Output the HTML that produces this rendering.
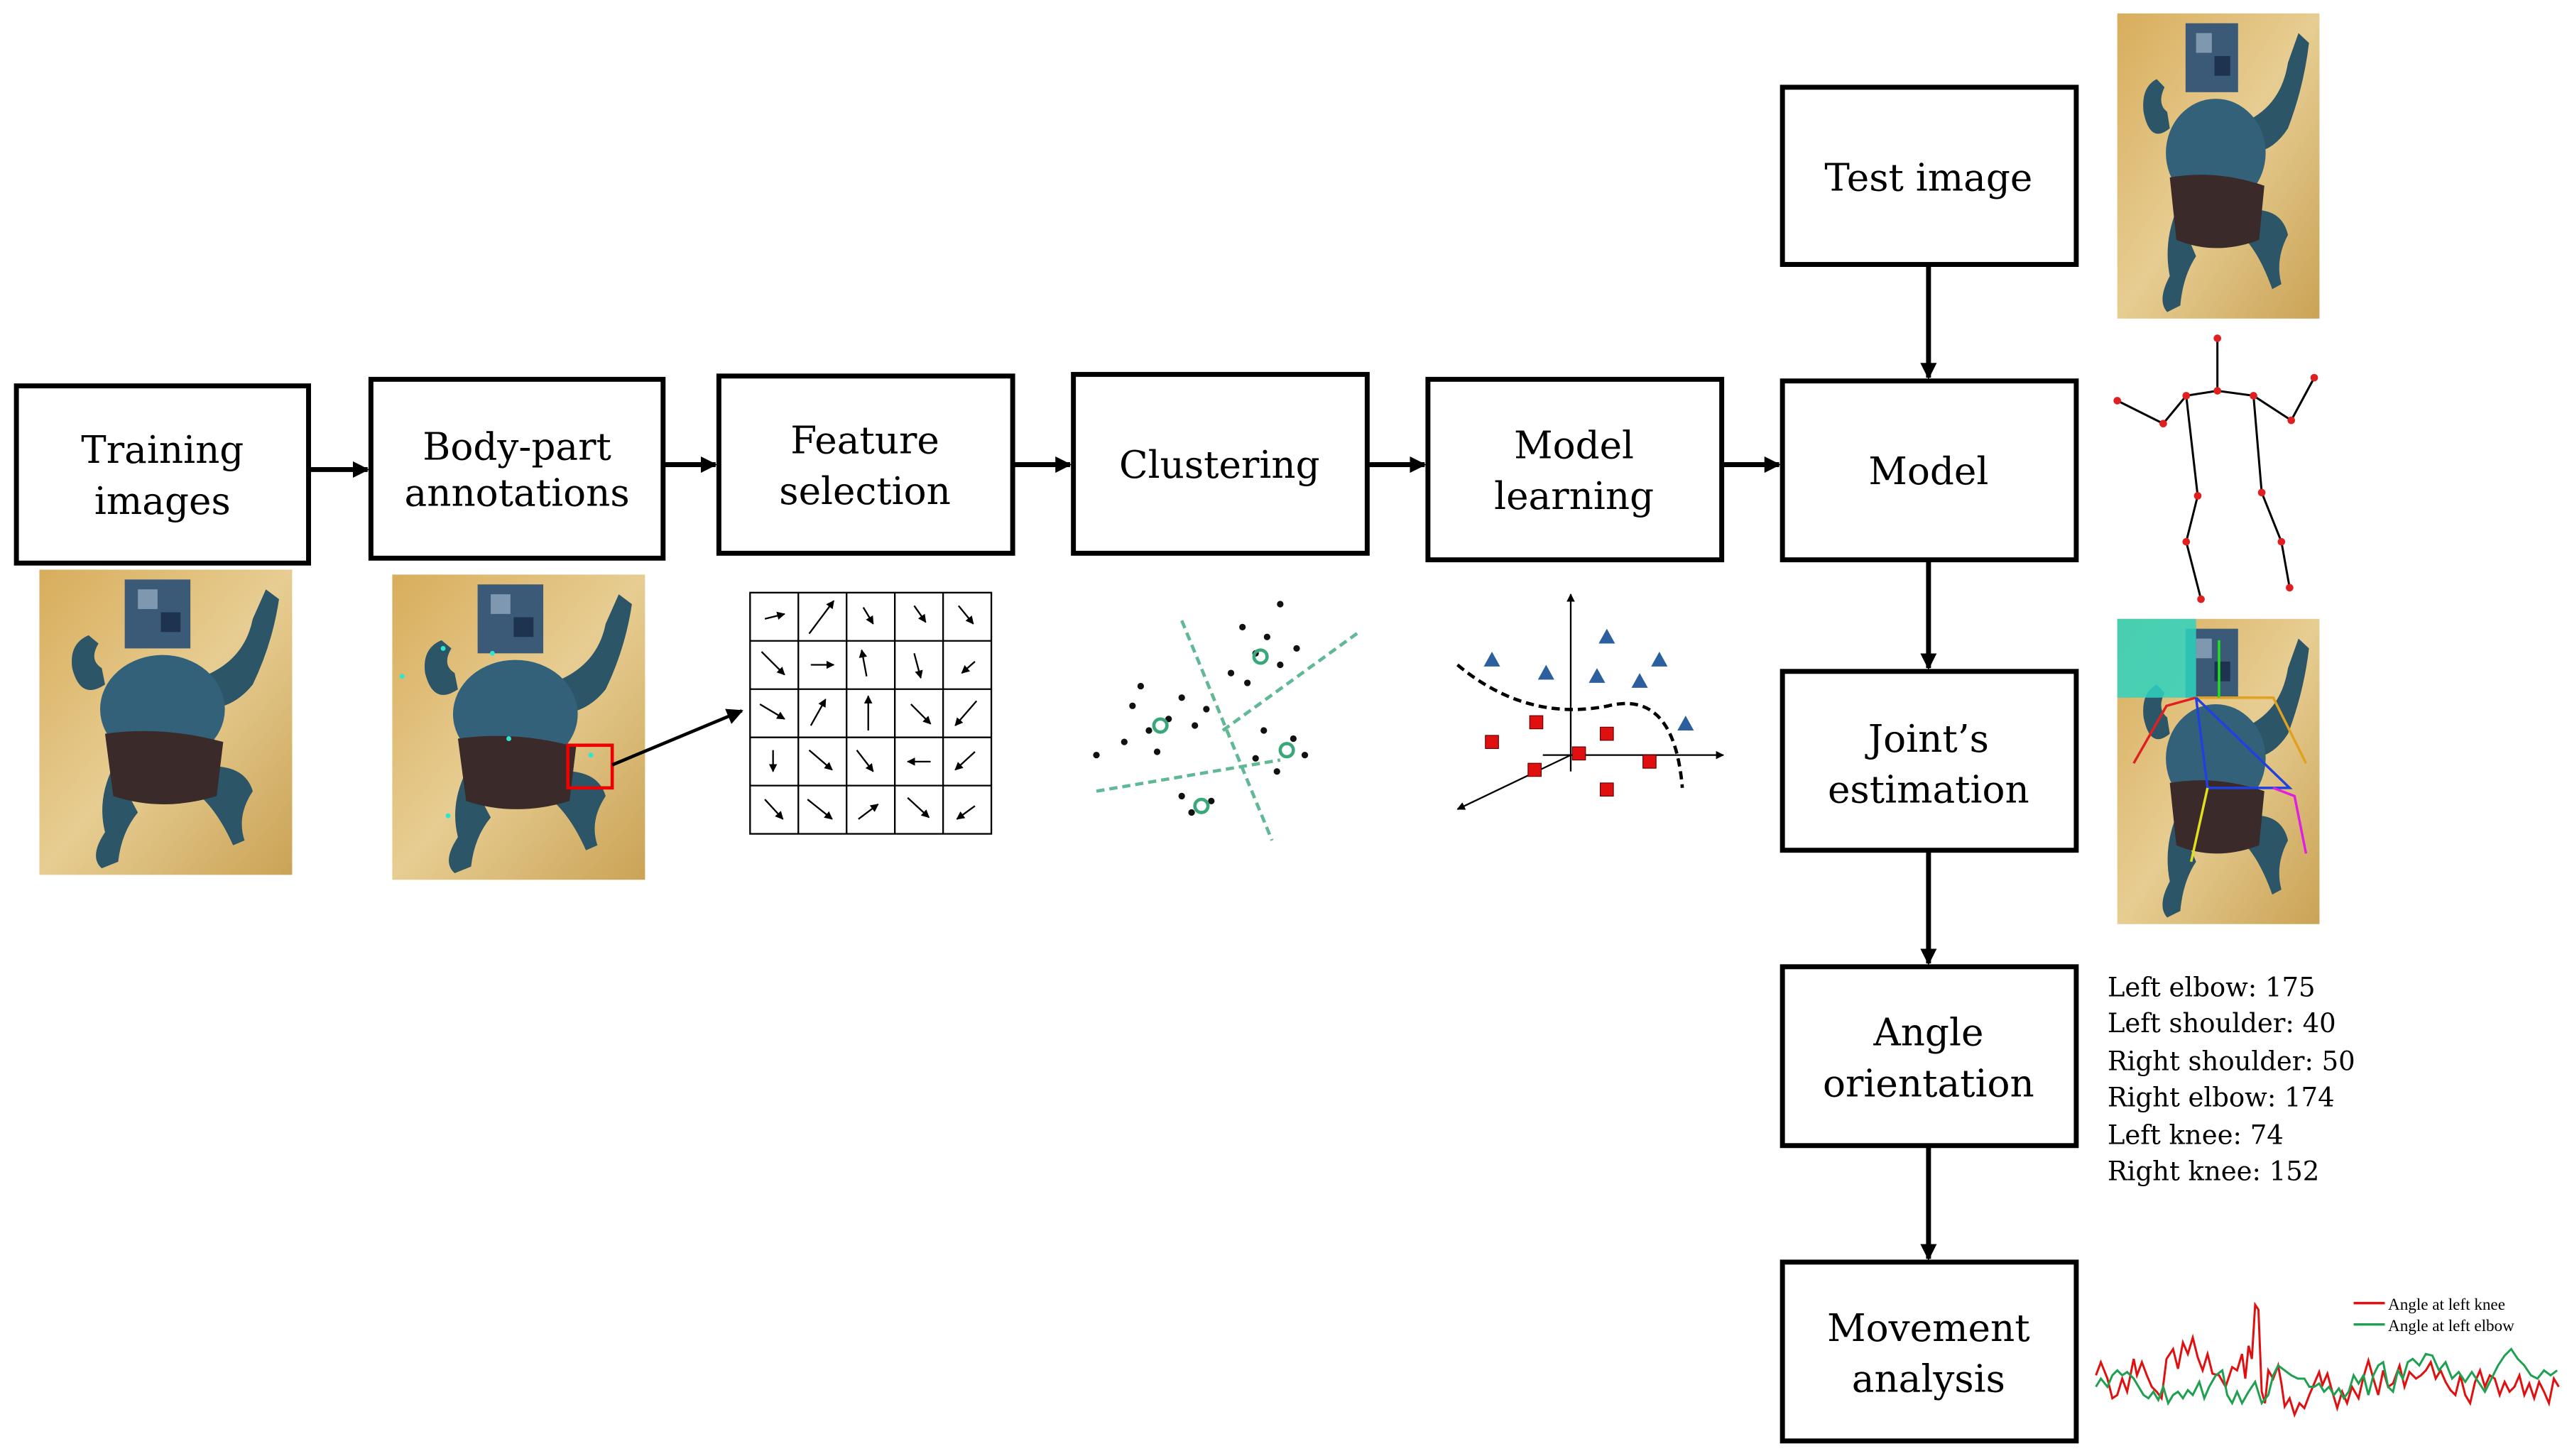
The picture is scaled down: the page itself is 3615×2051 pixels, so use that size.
<!DOCTYPE html>
<html><head><meta charset="utf-8"><style>
html,body{margin:0;padding:0;background:#fff;}
svg{display:block;}
text{font-family:"DejaVu Serif","Liberation Serif",serif;}
</style></head><body>
<svg width="3615" height="2051" viewBox="0 0 1564 887" xmlns="http://www.w3.org/2000/svg">
<defs>
<marker id="ah" markerWidth="10" markerHeight="10" refX="9" refY="5" orient="auto" markerUnits="userSpaceOnUse"><path d="M0,0 L10,5 L0,10 z" fill="#000"/></marker>
<marker id="sa" markerWidth="5" markerHeight="5" refX="4.5" refY="2.5" orient="auto" markerUnits="userSpaceOnUse"><path d="M0,0 L5,2.5 L0,5 z" fill="#000"/></marker>
<linearGradient id="tan" x1="0" y1="0" x2="1" y2="1"><stop offset="0" stop-color="#d8ad5c"/><stop offset="0.5" stop-color="#e7cd92"/><stop offset="1" stop-color="#caa356"/></linearGradient>
<g id="baby">
<rect x="0" y="0" width="154" height="186" fill="url(#tan)"/>
<path d="M40,70 Q25,80 20,60 Q18,45 30,40 L36,45 Q30,55 38,60 Z" fill="#2c5568"/>
<path d="M100,65 Q125,55 130,30 L138,12 L146,18 Q142,45 130,70 Q118,85 100,85 Z" fill="#2c5568"/>
<ellipse cx="75" cy="85" rx="38" ry="33" fill="#33617a"/>
<path d="M45,120 Q35,140 40,160 Q30,175 38,182 L48,178 Q50,160 60,148 Z" fill="#2c5568"/>
<path d="M100,120 Q125,118 130,135 Q120,150 125,165 L118,168 Q110,150 100,140 Z" fill="#2c5568"/>
<path d="M40,100 Q75,95 112,105 L108,138 Q75,148 45,138 Z" fill="#3a2a2a"/>
<rect x="52" y="6" width="40" height="42" fill="#3b5a78"/>
<rect x="60" y="12" width="12" height="12" fill="#7f98b0"/><rect x="74" y="26" width="12" height="12" fill="#1d3350"/>
</g>
</defs>

<g fill="none" stroke="#000" stroke-width="3">
<rect x="10" y="235" width="178" height="108"/>
<rect x="226" y="231" width="178" height="109"/>
<rect x="438" y="229" width="179" height="108"/>
<rect x="654" y="228" width="179" height="109"/>
<rect x="870" y="231" width="179" height="110"/>
<rect x="1086" y="232" width="179" height="109"/>
<rect x="1086" y="53" width="179" height="108"/>
<rect x="1086" y="409" width="179" height="109"/>
<rect x="1086" y="589" width="179" height="109"/>
<rect x="1086" y="769" width="179" height="109"/>
</g>
<g stroke="#000" stroke-width="3" marker-end="url(#ah)">
<line x1="188" y1="286" x2="224" y2="286"/>
<line x1="404" y1="283" x2="436" y2="283"/>
<line x1="617" y1="283" x2="652" y2="283"/>
<line x1="833" y1="283" x2="868" y2="283"/>
<line x1="1049" y1="283" x2="1084" y2="283"/>
<line x1="1175" y1="161" x2="1175" y2="230"/>
<line x1="1175" y1="341" x2="1175" y2="407"/>
<line x1="1175" y1="518" x2="1175" y2="587"/>
<line x1="1175" y1="698" x2="1175" y2="767"/>
</g>
<g font-size="23" text-anchor="middle" fill="#000">
<text x="99" y="282">Training</text><text x="99" y="313">images</text>
<text x="315" y="280">Body-part</text><text x="315" y="308">annotations</text>
<text x="527" y="276">Feature</text><text x="527" y="307">selection</text>
<text x="743" y="291">Clustering</text>
<text x="959" y="279">Model</text><text x="959" y="310">learning</text>
<text x="1175" y="295">Model</text>
<text x="1175" y="116">Test image</text>
<text x="1175" y="458">Joint’s</text><text x="1175" y="489">estimation</text>
<text x="1175" y="637">Angle</text><text x="1175" y="668">orientation</text>
<text x="1175" y="817">Movement</text><text x="1175" y="848">analysis</text>
</g>

<use href="#baby" x="24" y="347"/>
<use href="#baby" x="239" y="350"/>
<g fill="#2ee6d0"><circle cx="270" cy="395" r="1.5"/><circle cx="300" cy="398" r="1.5"/><circle cx="245" cy="412" r="1.5"/><circle cx="360" cy="460" r="1.5"/><circle cx="273" cy="497" r="1.5"/><circle cx="310" cy="450" r="1.5"/></g>
<rect x="346" y="454" width="27" height="26" fill="none" stroke="#e00" stroke-width="2"/>
<line x1="373" y1="466" x2="452" y2="433" stroke="#000" stroke-width="2" marker-end="url(#ah)"/>

<g transform="translate(1290,8) scale(0.8,1)"><use href="#baby"/></g>
<g stroke="#000" stroke-width="1.3" fill="none">
<polyline points="1290,244 1318,258 1332,241 1351,238 1373,241 1396,256 1410,230"/>
<line x1="1351" y1="206" x2="1351" y2="238"/>
<polyline points="1332,241 1339,302 1332,330 1341,365"/>
<polyline points="1373,241 1378,300 1390,330 1395,358"/>
</g>
<g fill="#e02020"><circle cx="1290" cy="244" r="2.3"/><circle cx="1318" cy="258" r="2.3"/><circle cx="1332" cy="241" r="2.3"/><circle cx="1351" cy="238" r="2.3"/><circle cx="1351" cy="206" r="2.3"/><circle cx="1373" cy="241" r="2.3"/><circle cx="1396" cy="256" r="2.3"/><circle cx="1410" cy="230" r="2.3"/><circle cx="1339" cy="302" r="2.3"/><circle cx="1378" cy="300" r="2.3"/><circle cx="1332" cy="330" r="2.3"/><circle cx="1390" cy="330" r="2.3"/><circle cx="1341" cy="365" r="2.3"/><circle cx="1395" cy="358" r="2.3"/></g>
<g transform="translate(1290,377) scale(0.8,1)"><use href="#baby"/></g>
<rect x="1290" y="377" width="48" height="48" fill="#2fd3c0" opacity="0.85"/>
<g stroke-width="1.5" fill="none"><polyline points="1300,465 1320,430 1338,425" stroke="#e02020"/><polyline points="1338,425 1385,425 1405,465" stroke="#e0a020"/><polyline points="1338,425 1345,480 1395,480 1338,425" stroke="#2040e0"/><polyline points="1345,480 1335,525" stroke="#e0e020"/><polyline points="1385,480 1398,485 1405,520" stroke="#e020e0"/><line x1="1352" y1="390" x2="1352" y2="425" stroke="#20e020"/></g>

<g stroke="#000" stroke-width="1" fill="none">
<rect x="457" y="361" width="147" height="147"/>
<line x1="486.4" y1="361" x2="486.4" y2="508"/><line x1="515.8" y1="361" x2="515.8" y2="508"/><line x1="545.2" y1="361" x2="545.2" y2="508"/><line x1="574.6" y1="361" x2="574.6" y2="508"/>
<line x1="457" y1="390.4" x2="604" y2="390.4"/><line x1="457" y1="419.8" x2="604" y2="419.8"/><line x1="457" y1="449.2" x2="604" y2="449.2"/><line x1="457" y1="478.6" x2="604" y2="478.6"/>
</g>
<g stroke="#000" stroke-width="1" marker-end="url(#sa)">
<line x1="466" y1="377" x2="478" y2="374"/><line x1="493" y1="386" x2="508" y2="366"/><line x1="526" y1="370" x2="532" y2="380"/><line x1="557" y1="369" x2="564" y2="379"/><line x1="584" y1="369" x2="593" y2="380"/>
<line x1="464" y1="397" x2="478" y2="411"/><line x1="494" y1="405" x2="508" y2="405"/><line x1="528" y1="412" x2="525" y2="396"/><line x1="557" y1="398" x2="561" y2="413"/><line x1="594" y1="403" x2="586" y2="410"/>
<line x1="463" y1="429" x2="478" y2="438"/><line x1="494" y1="442" x2="503" y2="426"/><line x1="529" y1="445" x2="529" y2="424"/><line x1="555" y1="429" x2="567" y2="441"/><line x1="595" y1="427" x2="582" y2="442"/>
<line x1="471" y1="457" x2="471" y2="470"/><line x1="493" y1="457" x2="507" y2="469"/><line x1="522" y1="457" x2="532" y2="470"/><line x1="567" y1="464" x2="553" y2="464"/><line x1="594" y1="458" x2="582" y2="469"/>
<line x1="466" y1="487" x2="477" y2="499"/><line x1="492" y1="487" x2="507" y2="499"/><line x1="523" y1="499" x2="535" y2="490"/><line x1="553" y1="486" x2="566" y2="498"/><line x1="594" y1="491" x2="583" y2="499"/>
</g>

<g stroke="#3aa77a" stroke-width="2" stroke-dasharray="5,3" opacity="0.8">
<line x1="720" y1="378" x2="775" y2="512"/><line x1="745" y1="445" x2="828" y2="385"/><line x1="668" y1="482" x2="780" y2="463"/>
</g>
<g fill="#111">
<circle cx="780" cy="368" r="2"/><circle cx="757" cy="382" r="2"/><circle cx="772" cy="388" r="2"/><circle cx="765" cy="398" r="2"/><circle cx="780" cy="405" r="2"/><circle cx="750" cy="410" r="2"/><circle cx="760" cy="416" r="2"/><circle cx="790" cy="395" r="2"/>
<circle cx="690" cy="430" r="2"/><circle cx="700" cy="445" r="2"/><circle cx="712" cy="438" r="2"/><circle cx="720" cy="425" r="2"/><circle cx="728" cy="442" r="2"/><circle cx="685" cy="452" r="2"/><circle cx="668" cy="460" r="2"/><circle cx="705" cy="458" r="2"/><circle cx="735" cy="432" r="2"/><circle cx="695" cy="418" r="2"/>
<circle cx="770" cy="445" r="2"/><circle cx="788" cy="450" r="2"/><circle cx="795" cy="460" r="2"/><circle cx="778" cy="470" r="2"/><circle cx="765" cy="462" r="2"/>
<circle cx="720" cy="485" r="2"/><circle cx="738" cy="488" r="2"/><circle cx="726" cy="495" r="2"/>
</g>
<g fill="none" stroke="#3aa77a" stroke-width="2"><circle cx="768" cy="400" r="4"/><circle cx="707" cy="442" r="4"/><circle cx="784" cy="457" r="4"/><circle cx="732" cy="491" r="4"/></g>

<g stroke="#000" stroke-width="1" fill="none">
<line x1="957" y1="470" x2="957" y2="362" marker-end="url(#sa)"/>
<line x1="940" y1="460" x2="1050" y2="460" marker-end="url(#sa)"/>
<line x1="957" y1="460" x2="888" y2="493" marker-end="url(#sa)"/>
<path d="M888,405 Q930,440 980,430 Q1020,420 1025,480" stroke-dasharray="5,3" stroke-width="2"/>
</g>
<g fill="#2b5f9e"><path d="M909,397 l5,9 h-10z"/><path d="M942,405 l5,9 h-10z"/><path d="M979,383 l5,9 h-10z"/><path d="M973,407 l5,9 h-10z"/><path d="M1011,397 l5,9 h-10z"/><path d="M999,410 l5,9 h-10z"/><path d="M1027,436 l5,9 h-10z"/></g>
<g fill="#e01010" stroke="#600" stroke-width="0.5"><rect x="905" y="448" width="8" height="8"/><rect x="932" y="436" width="8" height="8"/><rect x="958" y="455" width="8" height="8"/><rect x="975" y="443" width="8" height="8"/><rect x="931" y="465" width="8" height="8"/><rect x="1001" y="460" width="8" height="8"/><rect x="975" y="477" width="8" height="8"/></g>

<g font-size="16" fill="#000">
<text x="1284" y="607">Left elbow: 175</text>
<text x="1284" y="629">Left shoulder: 40</text>
<text x="1284" y="652">Right shoulder: 50</text>
<text x="1284" y="674">Right elbow: 174</text>
<text x="1284" y="697">Left knee: 74</text>
<text x="1284" y="719">Right knee: 152</text>
</g>

<line x1="1434" y1="794" x2="1453" y2="794" stroke="#e01010" stroke-width="1.5"/>
<line x1="1434" y1="807" x2="1453" y2="807" stroke="#1fa050" stroke-width="1.5"/>
<text x="1455" y="798" font-size="10" style="font-family:'Liberation Serif',serif">Angle at left knee</text>
<text x="1455" y="811" font-size="10" style="font-family:'Liberation Serif',serif">Angle at left elbow</text>
<polyline fill="none" stroke="#e01010" stroke-width="1.3" points="1277,838 1280,830 1284,840 1287,852 1290,850 1293,840 1296,848 1300,828 1302,838 1305,830 1308,838 1311,845 1314,848 1317,852 1320,828 1324,822 1327,834 1330,818 1333,825 1336,815 1339,827 1342,835 1345,825 1348,837 1352,838 1356,845 1360,833 1363,835 1366,825 1368,840 1370,820 1372,828 1374,795 1376,798 1378,848 1380,855 1382,835 1385,840 1388,832 1390,843 1392,857 1395,852 1398,862 1401,855 1404,858 1407,850 1410,843 1413,836 1415,844 1418,837 1421,848 1424,858 1427,848 1430,855 1433,845 1437,852 1440,839 1443,829 1446,840 1449,850 1452,835 1455,845 1458,843 1462,832 1465,845 1468,836 1472,840 1475,838 1478,835 1481,830 1484,840 1487,835 1490,842 1493,847 1496,850 1499,838 1502,850 1505,855 1508,842 1511,835 1514,845 1517,838 1520,840 1523,850 1526,842 1529,848 1532,845 1535,838 1538,850 1541,843 1544,852 1547,842 1550,848 1553,855 1556,840 1559,845"/>
<polyline fill="none" stroke="#1fa050" stroke-width="1.3" points="1277,845 1280,840 1284,845 1287,838 1290,835 1293,838 1296,836 1300,840 1303,845 1306,850 1309,852 1312,848 1315,853 1318,845 1321,855 1324,850 1327,848 1330,852 1333,847 1336,850 1340,842 1343,852 1346,845 1350,838 1354,835 1357,850 1360,855 1363,848 1366,855 1370,848 1374,842 1378,855 1382,850 1385,838 1388,832 1392,835 1396,838 1400,840 1404,840 1407,845 1410,845 1413,843 1416,848 1419,845 1422,850 1425,846 1428,852 1431,848 1434,838 1437,843 1440,838 1443,850 1446,838 1449,832 1452,830 1455,845 1458,848 1461,835 1464,840 1467,830 1470,828 1474,832 1478,825 1482,826 1486,835 1490,830 1494,840 1498,836 1502,842 1506,836 1510,842 1514,848 1518,840 1522,832 1526,826 1530,822 1534,828 1538,832 1542,838 1546,840 1550,835 1554,838 1558,835"/>
</svg>
</body></html>
